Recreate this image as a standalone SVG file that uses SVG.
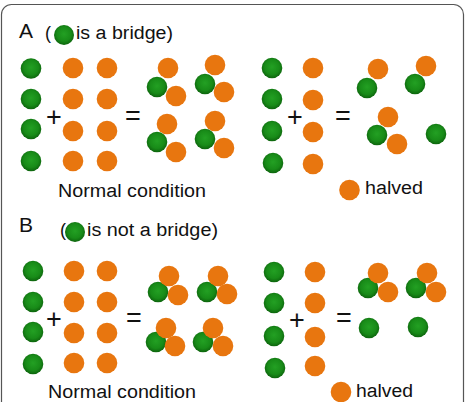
<svg xmlns="http://www.w3.org/2000/svg" width="465" height="402" viewBox="0 0 465 402">
<defs>
<radialGradient id="gg" cx="50%" cy="45%" r="55%">
<stop offset="0%" stop-color="#23a023"/>
<stop offset="65%" stop-color="#188b18"/>
<stop offset="100%" stop-color="#0d640d"/>
</radialGradient>
</defs>
<style>
.g{fill:url(#gg)}
.o{fill:#E8760F}
text{font-family:"Liberation Sans",Arial,sans-serif;fill:#111}
.t{font-size:18px}
.h{font-size:21px}
.op{font-size:27px;text-anchor:middle}
</style>
<rect x="1.5" y="4.5" width="462" height="430" rx="10" fill="#fff" stroke="#555" stroke-width="1.2"/>

<g id="panelA-title">
<text class="h" x="19" y="38">A</text>
<text class="t" x="45" y="39">(</text>
<circle class="g" cx="64" cy="35" r="10"/>
<text class="t" x="76" y="39" textLength="97" lengthAdjust="spacingAndGlyphs">is a bridge)</text>
</g>

<g id="A-left-green">
<circle class="g" cx="31" cy="68.5" r="10.3"/>
<circle class="g" cx="31" cy="99" r="10.3"/>
<circle class="g" cx="31" cy="129" r="10.3"/>
<circle class="g" cx="31" cy="161" r="10.3"/>
</g>
<g id="A-left-orange">
<circle class="o" cx="73" cy="68" r="10.3"/>
<circle class="o" cx="107" cy="68" r="10.3"/>
<circle class="o" cx="73" cy="99" r="10.3"/>
<circle class="o" cx="107" cy="99" r="10.3"/>
<circle class="o" cx="73" cy="131" r="10.3"/>
<circle class="o" cx="107" cy="131" r="10.3"/>
<circle class="o" cx="73" cy="161" r="10.3"/>
<circle class="o" cx="107" cy="161" r="10.3"/>
</g>
<text class="op" x="54" y="125.5">+</text>
<text class="op" x="133" y="124.5">=</text>
<g id="A-left-result">
<circle class="o" cx="168" cy="68" r="10.3"/><circle class="g" cx="157" cy="87" r="10.3"/><circle class="o" cx="176" cy="96" r="10.3"/>
<circle class="o" cx="215" cy="65" r="10.3"/><circle class="g" cx="205" cy="84" r="10.3"/><circle class="o" cx="224" cy="92" r="10.3"/>
<circle class="o" cx="167" cy="124" r="10.3"/><circle class="g" cx="157" cy="142" r="10.3"/><circle class="o" cx="176" cy="152" r="10.3"/>
<circle class="o" cx="215" cy="121" r="10.3"/><circle class="g" cx="205" cy="139" r="10.3"/><circle class="o" cx="224" cy="148" r="10.3"/>
</g>
<text id="A-normal" class="t" x="58" y="197" textLength="148" lengthAdjust="spacingAndGlyphs">Normal condition</text>

<g id="A-right-input">
<circle class="g" cx="272" cy="68" r="10.3"/>
<circle class="g" cx="272" cy="99" r="10.3"/>
<circle class="g" cx="272" cy="131" r="10.3"/>
<circle class="g" cx="273" cy="163" r="10.3"/>
<circle class="o" cx="313" cy="68" r="10.3"/>
<circle class="o" cx="313" cy="100" r="10.3"/>
<circle class="o" cx="313" cy="132" r="10.3"/>
<circle class="o" cx="313" cy="164" r="10.3"/>
</g>
<text class="op" x="295" y="125.5">+</text>
<text class="op" x="343" y="124.5">=</text>
<g id="A-right-result">
<circle class="o" cx="378" cy="69" r="10.3"/><circle class="g" cx="367" cy="88" r="10.3"/>
<circle class="o" cx="426" cy="66" r="10.3"/><circle class="g" cx="415" cy="84" r="10.3"/>
<circle class="o" cx="388" cy="117" r="10.3"/><circle class="g" cx="377" cy="135" r="10.3"/><circle class="o" cx="397" cy="144" r="10.3"/>
<circle class="g" cx="436" cy="134" r="10.3"/>
</g>
<g id="A-halved">
<circle class="o" cx="349.5" cy="190" r="10.3"/>
<text class="t" x="365" y="194" textLength="58" lengthAdjust="spacingAndGlyphs">halved</text>
</g>

<g id="panelB-title">
<text class="h" x="19" y="232">B</text>
<text class="t" x="60" y="236">(</text>
<circle class="g" cx="75" cy="232" r="10"/>
<text class="t" x="87" y="236" textLength="131" lengthAdjust="spacingAndGlyphs">is not a bridge)</text>
</g>

<g id="B-left-green">
<circle class="g" cx="33" cy="271" r="10.3"/>
<circle class="g" cx="33" cy="302" r="10.3"/>
<circle class="g" cx="33" cy="332" r="10.3"/>
<circle class="g" cx="33" cy="364" r="10.3"/>
</g>
<g id="B-left-orange">
<circle class="o" cx="74" cy="271" r="10.3"/>
<circle class="o" cx="107" cy="271" r="10.3"/>
<circle class="o" cx="74" cy="302" r="10.3"/>
<circle class="o" cx="107" cy="302" r="10.3"/>
<circle class="o" cx="74" cy="333" r="10.3"/>
<circle class="o" cx="107" cy="333" r="10.3"/>
<circle class="o" cx="74" cy="363" r="10.3"/>
<circle class="o" cx="107" cy="363" r="10.3"/>
</g>
<text class="op" x="54" y="327.5">+</text>
<text class="op" x="134" y="326.5">=</text>
<g id="B-left-result">
<circle class="g" cx="158" cy="292" r="10.3"/><circle class="o" cx="178" cy="295" r="10.3"/><circle class="o" cx="169" cy="276" r="10.3"/>
<circle class="g" cx="207" cy="292" r="10.3"/><circle class="o" cx="227" cy="294" r="10.3"/><circle class="o" cx="218" cy="276" r="10.3"/>
<circle class="g" cx="156" cy="342" r="10.3"/><circle class="o" cx="175" cy="346" r="10.3"/><circle class="o" cx="166" cy="328" r="10.3"/>
<circle class="g" cx="203" cy="342" r="10.3"/><circle class="o" cx="223" cy="346" r="10.3"/><circle class="o" cx="213" cy="328" r="10.3"/>
</g>
<text id="B-normal" class="t" x="48" y="398" textLength="148" lengthAdjust="spacingAndGlyphs">Normal condition</text>

<g id="B-right-input">
<circle class="g" cx="274" cy="272" r="10.3"/>
<circle class="g" cx="274" cy="303" r="10.3"/>
<circle class="g" cx="274" cy="336" r="10.3"/>
<circle class="g" cx="275" cy="368" r="10.3"/>
<circle class="o" cx="315" cy="272" r="10.3"/>
<circle class="o" cx="315" cy="303" r="10.3"/>
<circle class="o" cx="315" cy="337" r="10.3"/>
<circle class="o" cx="315" cy="366" r="10.3"/>
</g>
<text class="op" x="297" y="328.5">+</text>
<text class="op" x="344" y="326.5">=</text>
<g id="B-right-result">
<circle class="g" cx="368" cy="288" r="10.3"/><circle class="o" cx="388" cy="292" r="10.3"/><circle class="o" cx="378" cy="273" r="10.3"/>
<circle class="g" cx="416" cy="288" r="10.3"/><circle class="o" cx="436" cy="292" r="10.3"/><circle class="o" cx="427" cy="273" r="10.3"/>
<circle class="g" cx="369" cy="328" r="10.3"/>
<circle class="g" cx="418" cy="327" r="10.3"/>
</g>
<g id="B-halved">
<circle class="o" cx="341" cy="392" r="10.3"/>
<text class="t" x="356" y="397" textLength="57" lengthAdjust="spacingAndGlyphs">halved</text>
</g>
</svg>
